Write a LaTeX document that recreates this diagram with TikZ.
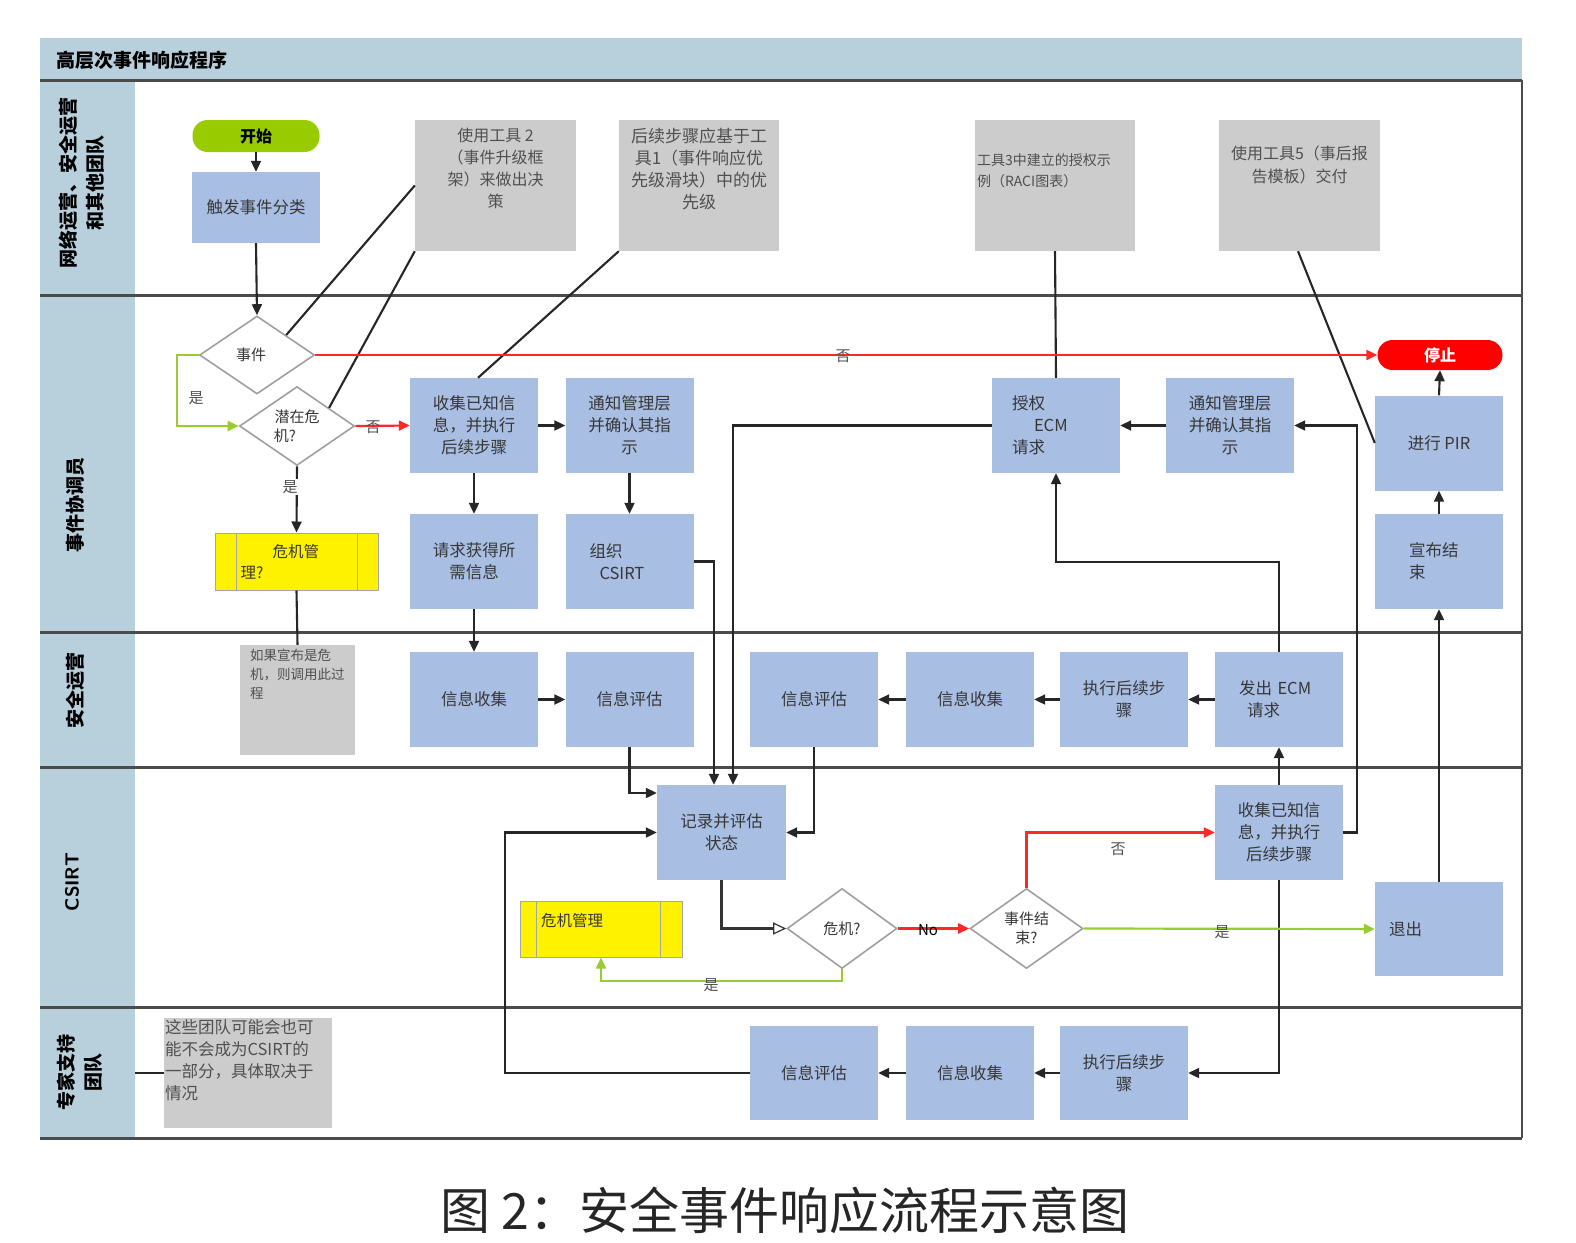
\documentclass[tikz,border=0pt]{standalone}
\usepackage{fontspec}
\setmainfont{Noto Sans CJK SC}
\usetikzlibrary{arrows.meta,shapes.geometric,calc}
\definecolor{lanebg}{RGB}{184,207,220}
\definecolor{boxblue}{RGB}{168,190,227}
\definecolor{boxgray}{RGB}{204,204,204}
\definecolor{txt}{RGB}{55,55,55}
\definecolor{gtxt}{RGB}{80,80,80}
\definecolor{lgreen}{RGB}{153,204,51}
\definecolor{startgreen}{RGB}{153,204,0}
\definecolor{lred}{RGB}{255,40,40}
\definecolor{laneline}{RGB}{75,75,75}
\begin{document}
\begin{tikzpicture}[x=1pt,y=-1pt,
  bbox/.style={fill=boxblue, minimum width=128pt, minimum height=95pt, inner sep=2pt, align=center, text=txt, font=\fontsize{16.5}{22}\selectfont},
  gbox/.style={fill=boxgray, minimum width=161pt, minimum height=131pt, inner sep=0pt},
  gtext/.style={text=gtxt, inner sep=0pt},
  dia/.style={diamond, draw=gray!75, line width=1.6pt, fill=white, inner sep=0pt, text=txt, font=\fontsize{15}{19}\selectfont, align=center},
  ybox/.style={fill=yellow, draw=gray!70, line width=1pt, minimum width=163pt, minimum height=57pt, text=txt, font=\fontsize{15.5}{21}\selectfont},
  con/.style={line width=2.1pt, draw=black!85},
  arr/.style={con, -{Triangle[length=11pt,width=10pt]}},
  garr/.style={line width=2.2pt, draw=lgreen, -{Triangle[length=11pt,width=10pt]}},
  rarr/.style={line width=2.2pt, draw=lred, -{Triangle[length=11pt,width=10pt]}},
  lbl/.style={text=gtxt, font=\fontsize{15}{15}\selectfont, inner sep=1pt},
  lanelbl/.style={rotate=90, font=\fontsize{19}{27}\selectfont\bfseries, align=center, text=black},
]
\useasboundingbox (0,0) rectangle (1576,1242);
% lanes
\fill[lanebg] (40,38) rectangle (1522,80);
\fill[lanebg] (40,80) rectangle (135,1138);
\foreach \yy in {80,295,632,767,1007,1138}
  \draw[laneline, line width=3pt] (40,\yy) -- (1522,\yy);
\draw[laneline, line width=2.5pt] (1522,80) -- (1522,1138);
\node[anchor=west, font=\fontsize{19}{19}\selectfont\bfseries] (title) at (53,60) {高层次事件响应程序};
\node[lanelbl] (lab1) at (82,183) {网络运营、安全运营\\和其他团队};
\node[lanelbl] (lab2) at (75,505) {事件协调员};
\node[lanelbl] (lab3) at (75,690) {安全运营};
\node[lanelbl, font=\fontsize{19}{23}\selectfont\sffamily\bfseries] (lab4) at (72,882) {CSIRT};
\node[lanelbl] (lab5) at (80,1072) {专家支持\\团队};
\coordinate (lab5e) at (135,1073);

% lane 1
\node[fill=startgreen, rounded corners=15pt, minimum width=127pt, minimum height=32pt, font=\fontsize{16}{16}\selectfont\bfseries, inner sep=0pt] (start) at (256,136) {开始};
\node[bbox, minimum height=71pt] (trig) at (256,207.5) {触发事件分类};
\node[gbox] (g2) at (495.5,185.5) {};
\node[gtext, anchor=north, align=center, font=\fontsize{16}{22}\selectfont] (g2t) at ($(g2.north)+(0,8)$) {使用工具 2\\（事件升级框\\架）来做出决\\策};
\node[gbox, minimum width=160pt] (g1) at (699,185.5) {};
\node[gtext, anchor=north, align=center, font=\fontsize{17}{22}\selectfont] (g1t) at ($(g1.north)+(0,8)$) {后续步骤应基于工\\具1（事件响应优\\先级滑块）中的优\\先级};
\node[gbox, minimum width=160pt] (g3) at (1055,185.5) {};
\node[gtext, anchor=north west, align=left, font=\fontsize{14}{21}\selectfont] (g3t) at ($(g3.north west)+(2,34)$) {工具3中建立的授权示\\例（RACI图表）};
\node[gbox] (g5) at (1299.5,185.5) {};
\node[gtext, anchor=north, align=center, font=\fontsize{16}{23}\selectfont] (g5t) at ($(g5.north)+(0,26)$) {使用工具5（事后报\\告模板）交付};

% lane 2
\node[dia, minimum width=115pt, minimum height=78pt] (d1) at (257,355) {事件\hspace*{12pt}};
\node[dia, minimum width=115pt, minimum height=78pt] (d2) at (297,426) {潜在危\\机?\hspace*{24pt}};
\node[fill=red, rounded corners=15pt, minimum width=125pt, minimum height=30pt, text=white, font=\fontsize{16}{16}\selectfont\bfseries, inner sep=0pt] (stop) at (1440,355) {停止};
\node[bbox] (collect1) at (474,425.5) {收集已知信\\息，并执行\\后续步骤};
\node[bbox] (notify1) at (629.5,425.5) {通知管理层\\并确认其指\\示};
\node[bbox] (req) at (474,561.5) {请求获得所\\需信息};
\node[bbox, text width=80pt, align=left] (org) at (629.5,561.5) {组织\\\hspace*{10pt}CSIRT};
\node[bbox, text width=88pt, align=left] (auth) at (1056,425.5) {授权\\\hspace*{22pt}ECM\\请求};
\node[bbox] (notify2) at (1230,425.5) {通知管理层\\并确认其指\\示};
\node[bbox] (pir) at (1439,443) {进行 PIR};
\node[bbox, text width=60pt, align=left] (close) at (1439,561.5) {宣布结\\束};
\node[ybox, text width=112pt, align=left, inner sep=0pt] (cq) at (296.5,561.5) {\hspace*{32pt}危机管\\理?};
\draw[gray!70, line width=1pt] ([xshift=22pt]cq.north west) -- ([xshift=22pt]cq.south west);
\draw[gray!70, line width=1pt] ([xshift=-21pt]cq.north east) -- ([xshift=-21pt]cq.south east);
\node[fill=boxgray, minimum width=115pt, minimum height=110pt, inner sep=0pt] (gl) at (297.5,700) {};
\node[gtext, anchor=north west, align=left, font=\fontsize{13.5}{19}\selectfont] (glt) at ($(gl.north west)+(10,4)$) {如果宣布是危\\机，则调用此过\\程};

% lane 3
\node[bbox] (info1) at (474,699.5) {信息收集};
\node[bbox] (eval1) at (629.5,699.5) {信息评估};
\node[bbox] (eval2) at (814,699.5) {信息评估};
\node[bbox] (info2) at (970,699.5) {信息收集};
\node[bbox] (exec1) at (1124,699.5) {执行后续步\\骤};
\node[bbox, text width=80pt, align=left] (ecm) at (1279,699.5) {发出 ECM\\\hspace*{8pt}请求};

% lane 4
\node[bbox, minimum width=129pt] (record) at (721.5,832.5) {记录并评估\\状态};
\node[bbox] (collect2) at (1279,832.5) {收集已知信\\息，并执行\\后续步骤};
\node[bbox, minimum height=94pt, text width=100pt, align=left] (exit) at (1439,929) {退出};
\node[ybox, minimum width=162pt, minimum height=56pt, text width=120pt, align=left, inner sep=0pt] (crisis) at (601,929) {危机管理\\[-2pt]\mbox{}};
\draw[gray!70, line width=1pt] ([xshift=17pt]crisis.north west) -- ([xshift=17pt]crisis.south west);
\draw[gray!70, line width=1pt] ([xshift=-22pt]crisis.north east) -- ([xshift=-22pt]crisis.south east);
\node[dia, minimum width=110pt, minimum height=80pt] (d3) at (842,928.5) {危机?};
\node[dia, minimum width=113pt, minimum height=80pt] (d4) at (1026.5,928.5) {事件结\\束?};

% lane 5
\node[fill=boxgray, minimum width=168pt, minimum height=110pt, inner sep=0pt] (ge) at (248,1073) {};
\node[gtext, anchor=north west, align=left, font=\fontsize{16.5}{22}\selectfont] (get) at ($(ge.north west)+(1,2)$) {这些团队可能会也可\\能不会成为CSIRT的\\一部分，具体取决于\\情况};
\node[bbox, minimum height=94pt] (eval3) at (814,1073) {信息评估};
\node[bbox, minimum height=94pt] (info3) at (970,1073) {信息收集};
\node[bbox, minimum height=94pt] (exec3) at (1124,1073) {执行后续步\\骤};

% connectors
\draw[arr] (start.south) -- (trig.north);
\draw[arr] (trig.south) -- (d1.north);
\draw[con] (g2.west) -- ($(d1.north)!0.5!(d1.east)$);
\draw[con] (g2.south west) -- ($(d2.north)!0.55!(d2.east)$);
\draw[con] (g1.south west) -- ([xshift=4pt]collect1.north);
\draw[con] (g3.south) -- (auth.north);
\draw[con] ([xshift=-1.5pt]g5.south) -- (pir.west);
\draw[garr] (d1.west) -- ++(-22,0) |- (d2.west);
\node[lbl] (yes1) at (196,398) {是};
\draw[rarr] (d1.east) -- (stop.west);
\node[lbl] (no1) at (843,356) {否};
\draw[rarr] (d2.east) -- (collect1.west);
\node[lbl] (no2) at (373,427) {否};
\draw[arr] (d2.south) -- (cq.north);
\node[lbl, fill=white] (yes2) at (290,487) {是};
\draw[con] (cq.south) -- (gl.north);
\draw[arr] (collect1.east) -- (notify1.west);
\draw[arr] (collect1.south) -- (req.north);
\draw[arr] (notify1.south) -- (org.north);
\draw[arr] (req.south) -- (info1.north);
\draw[arr] (info1.east) -- (eval1.west);
\draw[arr] (eval1.south) |- ([yshift=39.5pt]record.west);
\draw[arr] (org.east) -| ([xshift=-7.5pt]record.north);
\draw[arr] (auth.west) -| ([xshift=11.5pt]record.north);
\draw[arr] (eval2.south) |- (record.east);
\draw[arr] (notify2.west) -- (auth.east);
\draw[arr] (ecm.north) |- ($(auth.south)+(0,89)$) -- (auth.south);
\draw[arr] (ecm.west) -- (exec1.east);
\draw[arr] (exec1.west) -- (info2.east);
\draw[arr] (info2.west) -- (eval2.east);
\draw[arr] (collect2.north) -- (ecm.south);
\draw[arr] (collect2.east) -- ++(14,0) |- (notify2.east);
\draw[arr] (collect2.south) |- (exec3.east);
\draw[arr] (exec3.west) -- (info3.east);
\draw[arr] (info3.west) -- (eval3.east);
\draw[arr] (eval3.west) -| ($(record.west)+(-152,0)$) -- (record.west);
\draw[line width=3.2pt, draw=black!80, -{Triangle[open, length=13pt, width=12pt, line width=1.2pt]}] (record.south) |- (d3.west);
\draw[rarr] (d3.east) -- (d4.west);
\node[lbl, text=black] (no3) at (928,930) {No};
\draw[garr] (d3.south) -- ++(0,12) -| (crisis.south);
\node[lbl] (yes3) at (711,985) {是};
\draw[rarr] (d4.north) |- (collect2.west);
\node[lbl] (no4) at (1118,849) {否};
\draw[garr] (d4.east) -- (exit.west);
\node[lbl] (yes4) at (1222,932) {是};
\draw[arr] (exit.north) -- (close.south);
\draw[arr] (close.north) -- (pir.south);
\draw[arr] (pir.north) -- (stop.south);
\draw[con] (lab5e) -- (ge.west);

% caption
\node[font=\fontsize{50}{50}\selectfont, text=black!85] (cap) at (785,1210) {图 2：安全事件响应流程示意图};
\end{tikzpicture}
\end{document}
